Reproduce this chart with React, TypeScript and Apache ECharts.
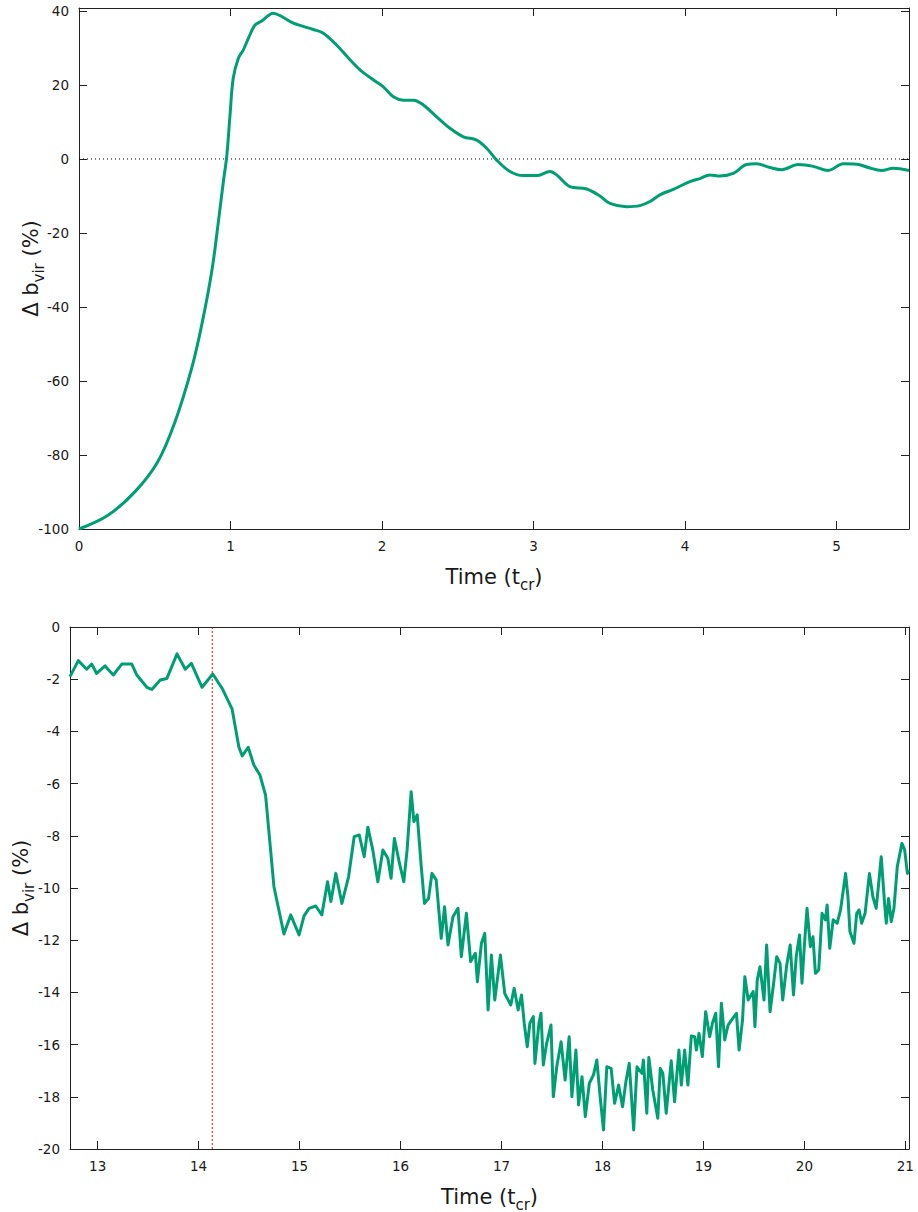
import React, { useEffect, useRef } from "react";
import * as echarts from "echarts";

const topTime = [0, 0.194, 0.37, 0.52, 0.634, 0.744, 0.81, 0.876, 0.92, 0.953, 0.975, 0.997, 1.018, 1.052, 1.085, 1.118, 1.162, 1.206, 1.283, 1.338, 1.415, 1.547, 1.613, 1.7, 1.789, 1.855, 1.943, 2.009, 2.075, 2.141, 2.207, 2.273, 2.361, 2.449, 2.537, 2.625, 2.691, 2.757, 2.845, 2.933, 3.021, 3.109, 3.153, 3.241, 3.351, 3.439, 3.505, 3.615, 3.703, 3.769, 3.835, 3.923, 4.033, 4.099, 4.165, 4.231, 4.319, 4.407, 4.473, 4.561, 4.638, 4.748, 4.847, 4.946, 5.045, 5.133, 5.21, 5.298, 5.375, 5.479];
const topValue = [-100, -96.2, -89.9, -81.8, -71, -56.5, -44.9, -30.5, -17, -6.1, 0.6, 11.9, 21.8, 27.2, 29.5, 32.6, 36.2, 37.3, 39.4, 38.5, 36.7, 35.0, 34.0, 30.8, 26.8, 24.1, 21.4, 19.5, 16.8, 15.9, 15.9, 14.6, 11.4, 8.3, 6.0, 5.1, 2.9, -0.3, -3.4, -4.5, -4.5, -3.4, -4.3, -7.5, -8.1, -10.0, -12.0, -12.9, -12.6, -11.5, -9.7, -8.2, -6.1, -5.3, -4.3, -4.6, -3.9, -1.5, -1.3, -2.3, -2.9, -1.5, -2.0, -3.1, -1.3, -1.4, -2.3, -3.1, -2.5, -3.1];

const bottomTime = [12.726, 12.808, 12.891, 12.941, 12.99, 13.073, 13.155, 13.239, 13.338, 13.388, 13.487, 13.537, 13.62, 13.686, 13.786, 13.868, 13.928, 14.034, 14.14, 14.233, 14.332, 14.398, 14.432, 14.491, 14.547, 14.607, 14.663, 14.746, 14.845, 14.912, 14.995, 15.044, 15.094, 15.16, 15.22, 15.277, 15.31, 15.359, 15.419, 15.485, 15.541, 15.591, 15.64, 15.676, 15.725, 15.775, 15.825, 15.874, 15.906, 15.939, 15.989, 16.032, 16.065, 16.105, 16.132, 16.165, 16.205, 16.237, 16.277, 16.311, 16.353, 16.403, 16.436, 16.47, 16.519, 16.569, 16.602, 16.652, 16.694, 16.741, 16.761, 16.801, 16.834, 16.867, 16.9, 16.933, 16.989, 17.032, 17.092, 17.125, 17.165, 17.198, 17.225, 17.255, 17.281, 17.315, 17.331, 17.371, 17.391, 17.414, 17.447, 17.49, 17.513, 17.547, 17.59, 17.63, 17.67, 17.697, 17.737, 17.763, 17.797, 17.83, 17.87, 17.911, 17.944, 17.977, 18.01, 18.043, 18.086, 18.12, 18.16, 18.199, 18.232, 18.265, 18.309, 18.342, 18.391, 18.405, 18.439, 18.459, 18.498, 18.548, 18.572, 18.598, 18.631, 18.681, 18.714, 18.757, 18.781, 18.814, 18.846, 18.88, 18.913, 18.93, 18.956, 18.989, 19.022, 19.062, 19.089, 19.122, 19.149, 19.178, 19.211, 19.244, 19.278, 19.327, 19.353, 19.387, 19.41, 19.443, 19.493, 19.51, 19.533, 19.56, 19.6, 19.626, 19.66, 19.693, 19.726, 19.759, 19.785, 19.825, 19.859, 19.892, 19.919, 19.952, 19.976, 19.999, 20.026, 20.059, 20.085, 20.109, 20.142, 20.175, 20.208, 20.225, 20.251, 20.285, 20.325, 20.358, 20.408, 20.431, 20.451, 20.491, 20.518, 20.542, 20.567, 20.601, 20.644, 20.678, 20.711, 20.734, 20.761, 20.794, 20.811, 20.834, 20.86, 20.887, 20.92, 20.966, 20.993, 21.02, 21.033];
const bottomValue = [-1.9, -1.29, -1.62, -1.42, -1.78, -1.49, -1.84, -1.42, -1.42, -1.84, -2.31, -2.39, -2.03, -1.97, -1.03, -1.62, -1.39, -2.31, -1.8, -2.35, -3.15, -4.59, -4.94, -4.61, -5.29, -5.67, -6.44, -9.95, -11.76, -11.03, -11.8, -11.07, -10.78, -10.69, -11.03, -9.76, -10.52, -9.44, -10.59, -9.57, -8.03, -7.97, -8.8, -7.67, -8.54, -9.76, -8.54, -8.86, -9.63, -8.1, -9.05, -9.76, -8.54, -6.31, -7.46, -7.2, -9.18, -10.59, -10.4, -9.44, -9.69, -11.93, -10.72, -12.18, -11.1, -10.78, -12.63, -10.97, -12.82, -12.5, -13.59, -12.12, -11.74, -14.67, -12.57, -14.29, -12.57, -14.04, -14.48, -13.84, -14.67, -14.1, -15.18, -16.08, -15.18, -14.93, -16.72, -15.18, -14.8, -16.78, -15.95, -15.25, -18.0, -16.85, -15.89, -17.36, -15.7, -18.0, -16.21, -18.31, -17.23, -18.76, -17.48, -17.16, -16.59, -18.0, -19.27, -16.85, -16.91, -18.25, -17.55, -18.38, -17.42, -16.72, -19.27, -16.85, -17.1, -16.59, -18.63, -16.49, -17.74, -18.82, -16.91, -17.1, -18.63, -16.62, -18.19, -16.21, -17.55, -16.21, -17.55, -15.67, -15.7, -16.21, -15.57, -16.46, -14.74, -15.7, -15.18, -14.8, -16.85, -14.42, -15.82, -15.25, -15.06, -14.8, -16.21, -15.06, -13.4, -14.29, -13.97, -15.31, -13.53, -13.02, -14.29, -12.18, -14.74, -13.72, -12.63, -12.89, -14.29, -12.95, -12.18, -14.1, -12.63, -11.8, -13.65, -12.25, -10.78, -12.25, -11.87, -13.27, -13.14, -10.97, -11.22, -10.65, -12.31, -11.22, -11.35, -10.84, -9.44, -10.33, -11.67, -12.12, -10.97, -10.84, -11.35, -10.97, -9.44, -10.33, -10.78, -9.89, -8.8, -10.59, -11.35, -10.4, -11.29, -10.78, -9.18, -8.29, -8.54, -9.44, -9.31];

const topXTicks = [0, 1, 2, 3, 4, 5];
const topYTicks = [-100, -80, -60, -40, -20, 0, 20, 40];
const bottomXTicks = [13, 14, 15, 16, 17, 18, 19, 20, 21];
const bottomYTicks = [-20, -18, -16, -14, -12, -10, -8, -6, -4, -2, 0];
const topRange = [0, 5.479];
const topYRange = [-100, 40.8];
const bottomRange = [12.726, 21.036];
const bottomYRange = [-20, 0];
const zeroLevel = 0;
const markerTime = 14.135;

const FONT = "DejaVu Sans";
const GREEN = "#009e73";
const AXIS = "#222";

const nameRich = {
  m: { fontSize: 21, fontFamily: FONT, color: "#1a1a1a", lineHeight: 21, verticalAlign: "top" },
  s: { fontSize: 15, fontFamily: FONT, color: "#1a1a1a", lineHeight: 15, verticalAlign: "top", padding: [11, 0, 0, 0] },
};

function axisBase(ticks: number[], showLabels: boolean) {
  return {
    axisLine: { show: true, onZero: false, lineStyle: { color: AXIS, width: 1 } },
    axisTick: { show: true, inside: true, length: 8, customValues: ticks, lineStyle: { color: AXIS, width: 1 } },
    axisLabel: { show: showLabels, customValues: ticks, fontSize: 13.5, fontFamily: FONT, color: "#1a1a1a", margin: 10 },
    splitLine: { show: false },
  };
}

export default function App() {
  const ref = useRef<HTMLDivElement>(null);
  useEffect(() => {
    if (!ref.current) return;
    const chart = echarts.init(ref.current, null, { renderer: "svg" });
    const topData = topTime.map((t, i) => [t, topValue[i]]);
    const bottomData = bottomTime.map((t, i) => [t, bottomValue[i]]);
    const option = {
      animation: false,
      backgroundColor: "#fff",
      grid: [
        { left: 79, top: 8, width: 830, height: 521, outerBoundsMode: "none", containLabel: false },
        { left: 70, top: 627, width: 839, height: 522, outerBoundsMode: "none", containLabel: false },
      ],
      xAxis: [
        {
          type: "value", gridIndex: 0, position: "bottom", min: topRange[0], max: topRange[1],
          name: "{m|Time (t}{s|cr}{m|)}", nameLocation: "middle", nameGap: 37, nameMoveOverlap: false,
          nameTextStyle: { rich: nameRich },
          ...axisBase(topXTicks, true),
        },
        { type: "value", gridIndex: 0, position: "top", min: topRange[0], max: topRange[1], ...axisBase(topXTicks, false) },
        {
          type: "value", gridIndex: 1, position: "bottom", min: bottomRange[0], max: bottomRange[1],
          name: "{m|Time (t}{s|cr}{m|)}", nameLocation: "middle", nameGap: 37, nameMoveOverlap: false,
          nameTextStyle: { rich: nameRich },
          ...axisBase(bottomXTicks, true),
        },
        { type: "value", gridIndex: 1, position: "top", min: bottomRange[0], max: bottomRange[1], ...axisBase(bottomXTicks, false) },
      ],
      yAxis: [
        {
          type: "value", gridIndex: 0, position: "left", min: topYRange[0], max: topYRange[1],
          name: "{m|Δ b}{s|vir}{m| (%)}", nameLocation: "middle", nameGap: 38, nameRotate: 90, nameMoveOverlap: false,
          nameTextStyle: { rich: nameRich },
          ...axisBase(topYTicks, true),
        },
        { type: "value", gridIndex: 0, position: "right", min: topYRange[0], max: topYRange[1], ...axisBase(topYTicks, false) },
        {
          type: "value", gridIndex: 1, position: "left", min: bottomYRange[0], max: bottomYRange[1],
          name: "{m|Δ b}{s|vir}{m| (%)}", nameLocation: "middle", nameGap: 39, nameRotate: 90, nameMoveOverlap: false,
          nameTextStyle: { rich: nameRich },
          ...axisBase(bottomYTicks, true),
        },
        { type: "value", gridIndex: 1, position: "right", min: bottomYRange[0], max: bottomYRange[1], ...axisBase(bottomYTicks, false) },
      ],
      series: [
        {
          type: "line", xAxisIndex: 0, yAxisIndex: 0,
          data: [[topRange[0], zeroLevel], [topRange[1], zeroLevel]],
          showSymbol: false, silent: true,
          lineStyle: { color: "#000", width: 1, type: [1, 3] },
          z: 1,
        },
        {
          type: "line", xAxisIndex: 0, yAxisIndex: 0, data: topData,
          showSymbol: false, smooth: 0.35,
          lineStyle: { color: GREEN, width: 3 }, itemStyle: { color: GREEN },
          z: 3,
        },
        {
          type: "line", xAxisIndex: 2, yAxisIndex: 2,
          data: [[markerTime, bottomYRange[0]], [markerTime, bottomYRange[1]]],
          showSymbol: false, silent: true,
          lineStyle: { color: "#ff0000", width: 1, type: [2, 2] },
          itemStyle: { color: "#ff0000" },
          z: 1,
        },
        {
          type: "line", xAxisIndex: 2, yAxisIndex: 2, data: bottomData,
          showSymbol: false, smooth: false,
          lineStyle: { color: GREEN, width: 3, join: "round" }, itemStyle: { color: GREEN },
          z: 3,
        },
      ],
    };
    chart.setOption(option as any);
    return () => chart.dispose();
  }, []);
  return (
    <div
      ref={ref}
      style={{ position: "absolute", left: 0, top: 0, width: 918, height: 1212 }}
    />
  );
}
